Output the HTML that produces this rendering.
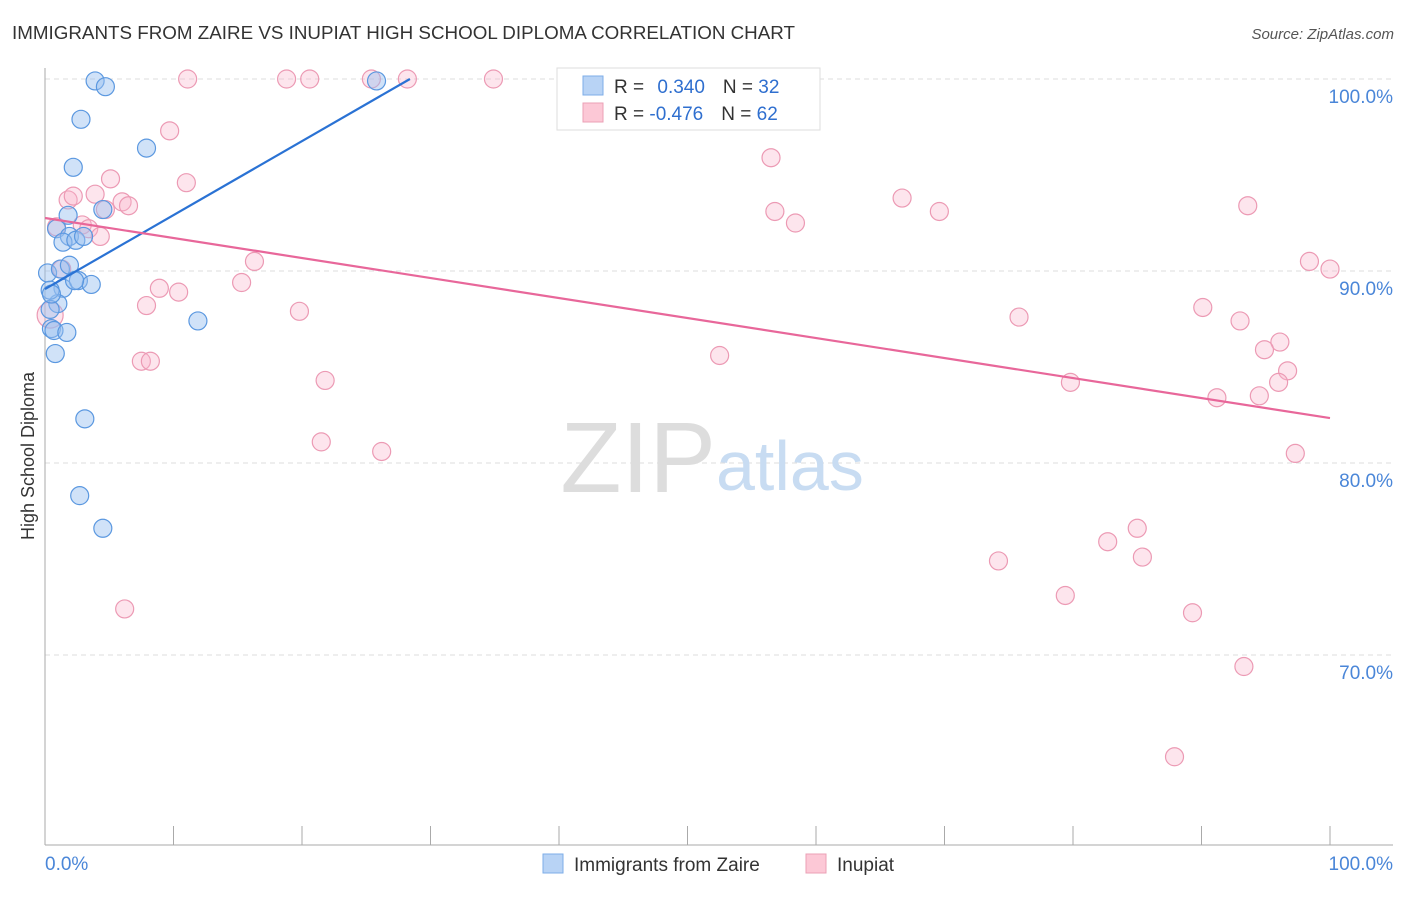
<!DOCTYPE html>
<html><head><meta charset="utf-8"><style>
body{margin:0;background:#fff;font-family:"Liberation Sans",sans-serif}
svg text{font-family:"Liberation Sans",sans-serif}
</style></head><body>
<svg id="chart" width="1406" height="892">
<text x="12" y="39" font-size="18" fill="#333" textLength="783" lengthAdjust="spacingAndGlyphs">IMMIGRANTS FROM ZAIRE VS INUPIAT HIGH SCHOOL DIPLOMA CORRELATION CHART</text>
<text x="1394" y="39" font-size="15" fill="#555" font-style="italic" text-anchor="end">Source: ZipAtlas.com</text>
<g id="grid"></g>
<text x="716" y="492" font-size="100" fill="#ddd" text-anchor="end" font-family="Liberation Serif">ZIP</text>
<text x="716" y="490" font-size="70" fill="#c8dcf2">atlas</text>
<g id="marks"></g>
<text transform="translate(34,456) rotate(-90)" font-size="18" fill="#333" text-anchor="middle">High School Diploma</text>
<text x="45" y="870" font-size="19" fill="#4a86d8">0.0%</text>
<text x="1393" y="870" font-size="19" fill="#4a86d8" text-anchor="end">100.0%</text>
<g>
<rect x="557" y="68" width="263" height="62" fill="#fff" stroke="#ddd"/>
<rect x="583" y="76" width="20" height="19" fill="#b8d3f5" stroke="#7eaee8"/>
<rect x="583" y="103" width="20" height="19" fill="#fcc8d6" stroke="#eba0b6"/>
<text x="614" y="93" font-size="19" fill="#333">R = <tspan fill="#2f6fcf" dx="8">0.340</tspan><tspan fill="#333" dx="18">N = </tspan><tspan fill="#2f6fcf">32</tspan></text>
<text x="614" y="120" font-size="19" fill="#333">R = <tspan fill="#2f6fcf">-0.476</tspan><tspan fill="#333" dx="18">N = </tspan><tspan fill="#2f6fcf">62</tspan></text>
</g>
<g>
<rect x="543" y="854" width="20" height="19" fill="#b8d3f5" stroke="#7eaee8"/>
<text x="574" y="871" font-size="19" fill="#333">Immigrants from Zaire</text>
<rect x="806" y="854" width="20" height="19" fill="#fcc8d6" stroke="#eba0b6"/>
<text x="837" y="871" font-size="19" fill="#333">Inupiat</text>
</g>
</svg>
<script>
const yTicks=[100,90,80,70];
const yTickLabels=["100.0%","90.0%","80.0%","70.0%"];
const xTicks=[10,20,30,40,50,60,70,80,90,100];
const blueX=[3.9,4.7,2.8,7.9,2.2,4.5,1.8,0.9,1.9,1.4,2.4,3.0,0.2,1.2,1.9,1.4,2.6,3.6,1.0,0.4,0.5,0.7,1.7,0.8,3.1,2.7,4.5,11.9,25.8,0.4,2.3,0.5];
const blueY=[99.9,99.6,97.9,96.4,95.4,93.2,92.9,92.2,91.8,91.5,91.6,91.8,89.9,90.1,90.3,89.1,89.5,89.3,88.3,88.0,87.0,86.9,86.8,85.7,82.3,78.3,76.6,87.4,99.9,89.0,89.5,88.8];
const pinkX=[11.1,18.8,20.6,25.4,28.2,34.9,47.1,9.7,5.1,11.0,1.8,2.2,3.9,6.0,6.5,4.7,0.9,2.9,3.4,4.3,1.3,16.3,15.3,8.9,10.4,7.9,19.8,7.5,8.2,21.8,21.5,26.2,6.2,56.5,56.8,58.4,66.7,69.6,93.6,98.4,100,90.1,75.8,93.0,96.1,94.9,52.5,96.7,96.0,79.8,94.5,91.2,97.3,85.0,82.7,85.4,74.2,79.4,89.3,93.3,87.9,0.4];
const pinkY=[100,100,100,100,100,100,100,97.3,94.8,94.6,93.7,93.9,94.0,93.6,93.4,93.2,92.3,92.4,92.2,91.8,90.1,90.5,89.4,89.1,88.9,88.2,87.9,85.3,85.3,84.3,81.1,80.6,72.4,95.9,93.1,92.5,93.8,93.1,93.4,90.5,90.1,88.1,87.6,87.4,86.3,85.9,85.6,84.8,84.2,84.2,83.5,83.4,80.5,76.6,75.9,75.1,74.9,73.1,72.2,69.4,64.7,87.7];
const blueTrend=[[0,89.06],[28.4,100]];
const pinkTrend=[[0,92.76],[100,82.34]];
const NS="http://www.w3.org/2000/svg";
const sx=v=>45+v*12.85, sy=v=>79+(100-v)*19.2;
function mk(t,a,p){const e=document.createElementNS(NS,t);for(const k in a)e.setAttribute(k,a[k]);p.appendChild(e);return e;}
const g=document.getElementById('grid'), m=document.getElementById('marks');
yTicks.forEach((t,i)=>{
 const l=mk('line',{x1:45,x2:1393,y1:sy(t),y2:sy(t),stroke:'#ddd','stroke-dasharray':'5,4'},g);
 
 
 const tx=mk('text',{x:1393,y:sy(t)+24,'font-size':19,fill:'#4a86d8','text-anchor':'end'},g);
 tx.textContent=yTickLabels[i];
 
 
});
const ax=mk('line',{x1:45,x2:45,y1:68,y2:845,stroke:'#aaa'},g);


const bx=mk('line',{x1:45,x2:1393,y1:845,y2:845,stroke:'#aaa'},g);


xTicks.forEach(t=>{
 const l=mk('line',{x1:sx(t),x2:sx(t),y1:826,y2:845,stroke:'#aaa'},g);
 
 
});
pinkX.forEach((x,i)=>{
 const c=mk('circle',{cx:sx(x),cy:sy(pinkY[i]),r:i==pinkX.length-1?13:9,fill:'rgba(248,180,202,0.35)',stroke:'#ec9ab4','stroke-width':1.2},m);
 
 
});
blueX.forEach((x,i)=>{
 const c=mk('circle',{cx:sx(x),cy:sy(blueY[i]),r:9,fill:'rgba(150,190,240,0.45)',stroke:'#5b98e0','stroke-width':1.2},m);
 
 
});
const tb=mk('line',{x1:sx(blueTrend[0][0]),y1:sy(blueTrend[0][1]),x2:sx(blueTrend[1][0]),y2:sy(blueTrend[1][1]),stroke:'#2a72d4','stroke-width':2.2},m);


const tp=mk('line',{x1:sx(pinkTrend[0][0]),y1:sy(pinkTrend[0][1]),x2:sx(pinkTrend[1][0]),y2:sy(pinkTrend[1][1]),stroke:'#e8679a','stroke-width':2.2},m);


</script>
</body></html>
